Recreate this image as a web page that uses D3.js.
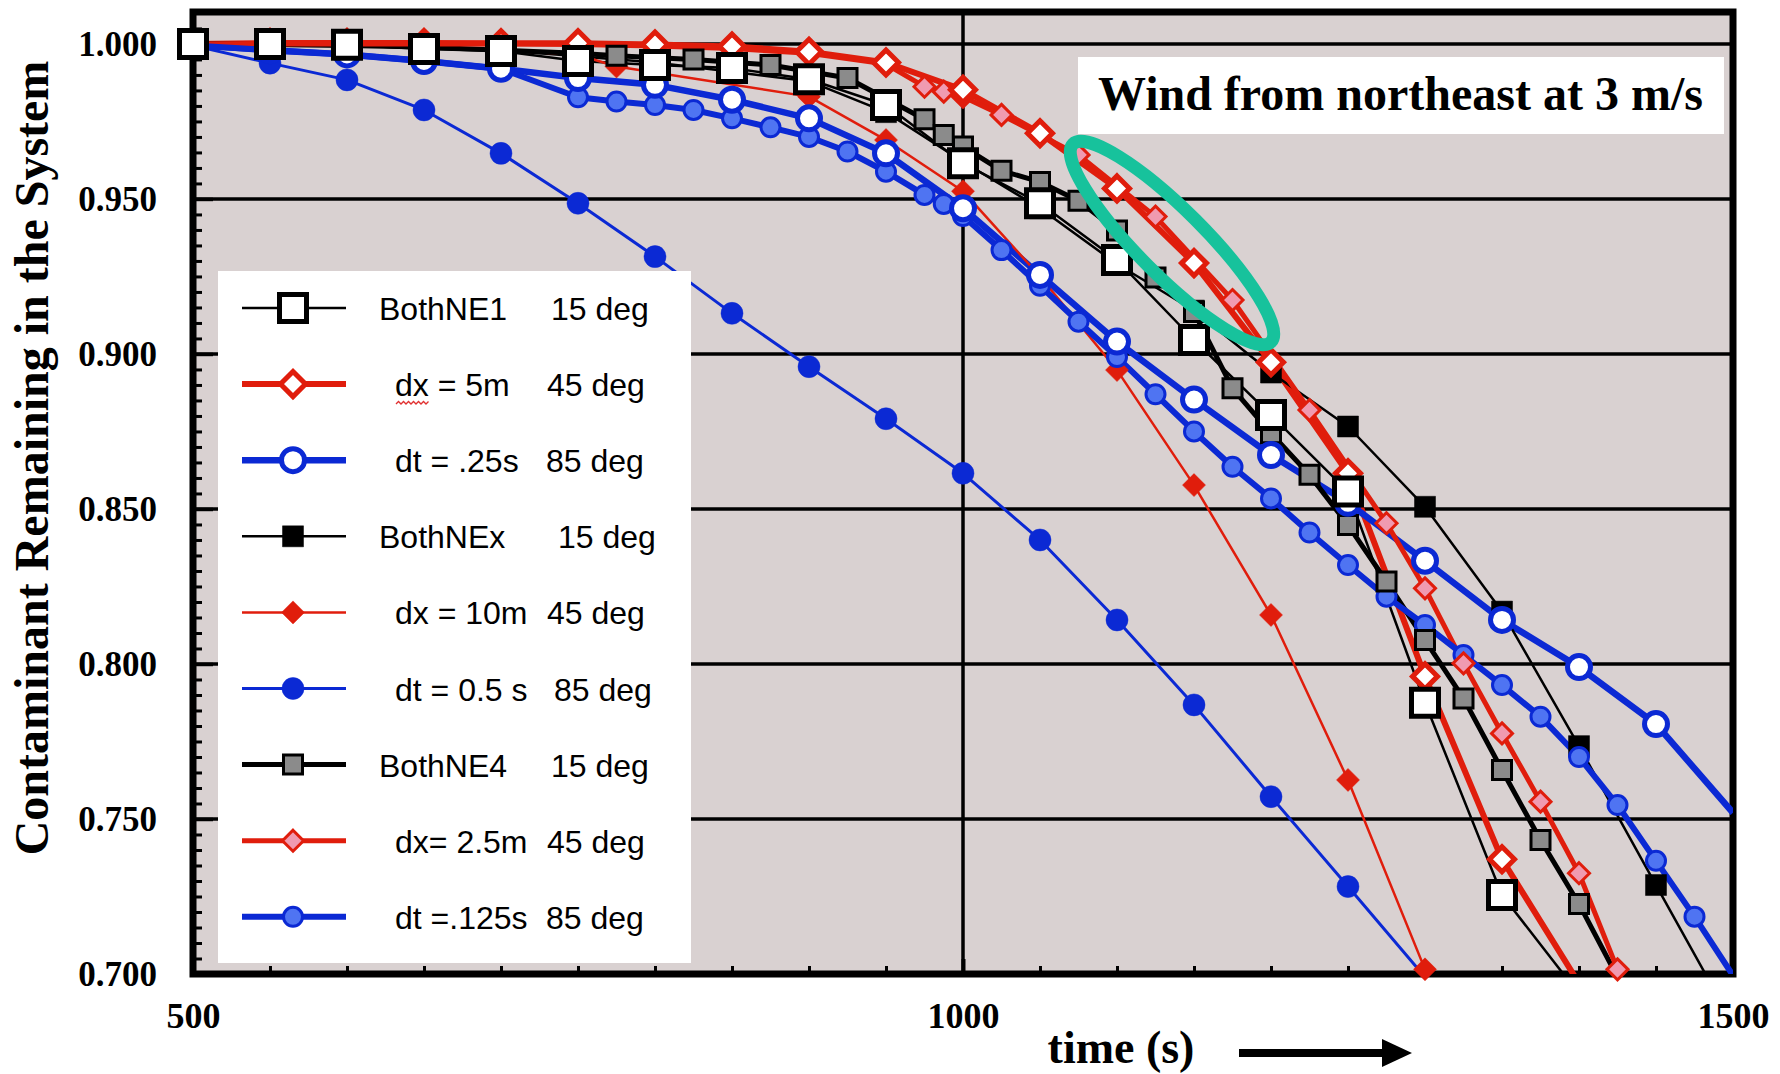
<!DOCTYPE html>
<html>
<head>
<meta charset="utf-8">
<script src="https://cdnjs.cloudflare.com/ajax/libs/d3/7.8.5/d3.min.js"></script>
<style>
  html, body { margin: 0; padding: 0; background: #fff; }
  svg { display: block; }
</style>
</head>
<body>
<svg id="chart" width="1780" height="1074"></svg>
<script>
// ---- data: [time (s), fraction remaining] ----
const bothNE1 = [[500,1.000],[550,1.000],[600,0.9997],[650,0.9984],[700,0.9977],[750,0.9945],[800,0.9932],[850,0.9922],[900,0.9886],[950,0.9803],[1000,0.9615],[1050,0.9486],[1100,0.9303],[1150,0.9045],[1200,0.8803],[1250,0.8556],[1300,0.7875],[1350,0.7255],[1400,0.6935]];
const dx5m = [[500,1.000],[550,1.0003],[600,1.0003],[650,1.0003],[700,1.0002],[750,1.0002],[800,0.9998],[850,0.9992],[900,0.9975],[950,0.994],[1000,0.9852],[1050,0.9712],[1100,0.9534],[1150,0.9293],[1200,0.8973],[1250,0.8615],[1300,0.796],[1350,0.737],[1400,0.697]];
const dt025 = [[500,0.9997],[550,0.998],[600,0.9966],[650,0.9945],[700,0.992],[750,0.989],[800,0.9868],[850,0.982],[900,0.976],[950,0.9647],[1000,0.947],[1050,0.9255],[1100,0.904],[1150,0.8853],[1200,0.8674],[1250,0.852],[1300,0.8333],[1350,0.8142],[1400,0.799],[1450,0.7806],[1500,0.752]];
const bothNEx = [[500,1.000],[550,1.000],[600,0.9995],[650,0.999],[700,0.998],[750,0.996],[800,0.994],[850,0.991],[900,0.988],[950,0.978],[1000,0.962],[1050,0.947],[1100,0.929],[1150,0.914],[1200,0.894],[1250,0.8766],[1300,0.8507],[1350,0.8169],[1400,0.7735],[1450,0.7287],[1500,0.684]];
const dx10m = [[500,1.000],[550,1.000],[600,0.9995],[650,0.999],[700,0.998],[750,0.9965],[775,0.9927],[900,0.983],[950,0.969],[1000,0.9525],[1050,0.925],[1100,0.8948],[1150,0.8577],[1200,0.8158],[1250,0.7626],[1300,0.7015]];
const dt05 = [[500,0.9995],[550,0.9938],[600,0.9884],[650,0.9787],[700,0.9647],[750,0.9486],[800,0.9314],[850,0.9131],[900,0.8959],[950,0.8791],[1000,0.8615],[1050,0.840],[1100,0.8142],[1150,0.7868],[1200,0.7572],[1250,0.7282],[1300,0.699]];
const bothNE4 = [[500,1.000],[550,0.9998],[600,0.9995],[650,0.999],[700,0.998],[750,0.997],[775,0.9962],[825,0.995],[875,0.9932],[925,0.989],[975,0.9757],[987.5,0.9706],[1000,0.9669],[1025,0.9591],[1050,0.9555],[1075,0.9494],[1100,0.9398],[1125,0.9247],[1150,0.9135],[1175,0.8889],[1200,0.8744],[1225,0.861],[1250,0.8448],[1275,0.8266],[1300,0.8077],[1325,0.7889],[1350,0.7658],[1375,0.7432],[1400,0.7226],[1425,0.699]];
const dx25m = [[500,1.000],[550,1.000],[600,1.000],[650,1.000],[700,1.000],[750,0.9998],[800,0.9993],[850,0.9985],[900,0.997],[950,0.9935],[975,0.9862],[987.5,0.9846],[1000,0.983],[1025,0.9771],[1075,0.9642],[1125,0.9443],[1175,0.9174],[1225,0.8819],[1275,0.8454],[1300,0.8244],[1325,0.8002],[1350,0.7776],[1375,0.7556],[1400,0.7325],[1425,0.7015]];
const dt0125 = [[500,0.9995],[550,0.998],[600,0.9966],[650,0.9945],[700,0.992],[750,0.9828],[775,0.9814],[800,0.9803],[825,0.9787],[850,0.976],[875,0.9731],[900,0.970],[925,0.9653],[950,0.9588],[975,0.9513],[987.5,0.9484],[1000,0.9445],[1025,0.9335],[1050,0.922],[1075,0.9104],[1100,0.899],[1125,0.887],[1150,0.875],[1175,0.8636],[1200,0.8534],[1225,0.8424],[1250,0.8319],[1275,0.8217],[1300,0.8126],[1325,0.8029],[1350,0.7932],[1375,0.783],[1400,0.770],[1425,0.7545],[1450,0.7365],[1475,0.7185],[1500,0.6995]];

const legendNames  = ['BothNE1', 'dx = 5m', 'dt = .25s', 'BothNEx', 'dx = 10m', 'dt = 0.5 s', 'BothNE4', 'dx= 2.5m', 'dt =.125s'];
const legendAngles = ['15 deg', '45 deg', '85 deg', '15 deg', '45 deg', '85 deg', '15 deg', '45 deg', '85 deg'];
const yTicks = [0.700, 0.750, 0.800, 0.850, 0.900, 0.950, 1.000];
const xTicks = [500, 1000, 1500];
const titleText = 'Wind from northeast at 3 m/s';
const yLabel = 'Contaminant Remaining in the System';
const xLabel = 'time (s)';

// ---- styles ----
const RED = '#e01d0c', BLUE = '#0b29d4', LBLUE = '#4f74f2', GRAY = '#8b8b8b', PINK = '#f09ab0';
const series = [
  { data: bothNE1, lc: '#000', lw: 2.5, shape: 'square',  size: 27, fill: '#fff', stroke: '#000', sw: 5 },
  { data: dx5m,    lc: RED,    lw: 6,   shape: 'diamond', size: 25, fill: '#fff', stroke: RED,    sw: 5 },
  { data: dt025,   lc: BLUE,   lw: 6.5, shape: 'circle',  size: 23, fill: '#fff', stroke: BLUE,   sw: 5 },
  { data: bothNEx, lc: '#000', lw: 2.5, shape: 'square',  size: 21, fill: '#000', stroke: '#000', sw: 0.5 },
  { data: dx10m,   lc: RED,    lw: 2.5, shape: 'diamond', size: 23, fill: RED,    stroke: RED,    sw: 0.5 },
  { data: dt05,    lc: BLUE,   lw: 3,   shape: 'circle',  size: 22, fill: BLUE,   stroke: BLUE,   sw: 0.5 },
  { data: bothNE4, lc: '#000', lw: 5,   shape: 'square',  size: 19, fill: GRAY,   stroke: '#000', sw: 3 },
  { data: dx25m,   lc: RED,    lw: 5,   shape: 'diamond', size: 21, fill: PINK,   stroke: RED,    sw: 3 },
  { data: dt0125,  lc: BLUE,   lw: 6,   shape: 'circle',  size: 19, fill: LBLUE,  stroke: BLUE,   sw: 3 }
];
// marker stacking order (bottom -> top)
const markerOrder = [5, 4, 3, 8, 7, 6, 2, 1, 0];

const serif = '"Liberation Serif", "Times New Roman", serif';
const sans = '"Liberation Sans", Arial, Helvetica, sans-serif';

const svg = d3.select('#chart');
const x = d3.scaleLinear().domain([500, 1500]).range([193, 1733]);
const y = d3.scaleLinear().domain([0.700, 1.0103]).range([974, 12]);
const [x0, x1] = x.range();
const [yb, yt] = y.range();

function markerPath(shape, cx, cy, size) {
  const s = size / 2;
  if (shape === 'square') return `M${cx - s},${cy - s}h${size}v${size}h${-size}Z`;
  if (shape === 'diamond') return `M${cx},${cy - s}L${cx + s},${cy}L${cx},${cy + s}L${cx - s},${cy}Z`;
  return `M${cx - s},${cy}a${s},${s} 0 1,0 ${size},0a${s},${s} 0 1,0 ${-size},0Z`;
}

// background
svg.append('rect').attr('x', x0).attr('y', yt).attr('width', x1 - x0).attr('height', yb - yt).attr('fill', '#d9d1d1');

svg.append('defs').append('clipPath').attr('id', 'plotClip')
  .append('rect').attr('x', x0).attr('y', yt).attr('width', x1 - x0).attr('height', yb - yt);

// grid
const grid = svg.append('g').attr('stroke', '#000').attr('stroke-width', 3.5);
grid.selectAll('.hg').data(yTicks.slice(1)).enter().append('line')
  .attr('x1', x0).attr('x2', x1).attr('y1', d => y(d)).attr('y2', d => y(d));
grid.append('line').attr('x1', x(1000)).attr('x2', x(1000)).attr('y1', yt).attr('y2', yb);

// axes with inward ticks
const yMinor = d3.range(140, 203).map(d => d / 200);
svg.append('g').attr('transform', `translate(${x0},0)`)
  .call(d3.axisLeft(y).tickValues(yMinor).tickSize(-9).tickFormat(''))
  .call(g => g.select('.domain').remove())
  .call(g => g.selectAll('line').attr('stroke-width', 3));
svg.append('g').attr('transform', `translate(${x0},0)`)
  .call(d3.axisLeft(y).tickValues(yTicks).tickSize(-20).tickPadding(36).tickFormat(d3.format('.3f')))
  .call(g => g.select('.domain').remove())
  .call(g => g.selectAll('line').attr('stroke-width', 3.5))
  .call(g => g.selectAll('text').attr('font-family', serif).attr('font-weight', 'bold').attr('font-size', 35).attr('fill', '#000'));

const xMinor = d3.range(500, 1501, 50);
svg.append('g').attr('transform', `translate(0,${yb})`)
  .call(d3.axisBottom(x).tickValues(xMinor).tickSize(-8).tickFormat(''))
  .call(g => g.select('.domain').remove())
  .call(g => g.selectAll('line').attr('stroke-width', 3));
svg.append('g').attr('transform', `translate(0,${yb})`)
  .call(d3.axisBottom(x).tickValues(xTicks).tickSize(-15).tickPadding(28).tickFormat(d3.format('d')))
  .call(g => g.select('.domain').remove())
  .call(g => g.selectAll('line').attr('stroke-width', 4))
  .call(g => g.selectAll('text').attr('font-family', serif).attr('font-weight', 'bold').attr('font-size', 36).attr('fill', '#000'));

// frame
svg.append('rect').attr('x', x0).attr('y', yt).attr('width', x1 - x0).attr('height', yb - yt)
  .attr('fill', 'none').attr('stroke', '#000').attr('stroke-width', 7);

// lines
const line = d3.line().x(d => x(d[0])).y(d => y(d[1]));
const lines = svg.append('g').attr('clip-path', 'url(#plotClip)');
series.forEach(s => {
  lines.append('path').datum(s.data).attr('d', line)
    .attr('fill', 'none').attr('stroke', s.lc).attr('stroke-width', s.lw).attr('stroke-linejoin', 'round');
});

// markers
const marks = svg.append('g');
markerOrder.forEach(i => {
  const s = series[i];
  marks.append('g').selectAll('path')
    .data(s.data.filter(d => d[0] < 1500 && d[1] >= 0.7))
    .enter().append('path')
    .attr('d', d => markerPath(s.shape, x(d[0]), y(d[1]), s.size))
    .attr('fill', s.fill).attr('stroke', s.stroke).attr('stroke-width', s.sw);
});

// legend
const lg = svg.append('g');
lg.append('rect').attr('x', 218).attr('y', 271).attr('width', 473).attr('height', 692).attr('fill', '#fff');
const nameX = [379, 395, 395, 379, 395, 395, 379, 395, 395];
const angX = [551, 547, 546, 558, 547, 554, 551, 547, 546];
series.forEach((s, i) => {
  const ry = 308 + i * 76.1;
  lg.append('line').attr('x1', 242).attr('x2', 346).attr('y1', ry).attr('y2', ry)
    .attr('stroke', s.lc).attr('stroke-width', s.lw);
  lg.append('path').attr('d', markerPath(s.shape, 293, ry, s.size))
    .attr('fill', s.fill).attr('stroke', s.stroke).attr('stroke-width', s.sw);
  lg.append('text').attr('x', nameX[i]).attr('y', ry + 12).text(legendNames[i])
    .attr('font-family', sans).attr('font-size', 32).attr('fill', '#000');
  lg.append('text').attr('x', angX[i]).attr('y', ry + 12).text(legendAngles[i])
    .attr('font-family', sans).attr('font-size', 32).attr('fill', '#000');
});
// spell-check squiggle under "dx" in the second row
lg.append('path').attr('d', 'M396,404l2.5,-2.5l2.5,2.5l2.5,-2.5l2.5,2.5l2.5,-2.5l2.5,2.5l2.5,-2.5l2.5,2.5l2.5,-2.5l2.5,2.5l2.5,-2.5l2.5,2.5l2.5,-2.5')
  .attr('fill', 'none').attr('stroke', '#e03030').attr('stroke-width', 1.3);

// title box
svg.append('rect').attr('x', 1078).attr('y', 57).attr('width', 646).attr('height', 77).attr('fill', '#fff');
svg.append('text').attr('x', 1098).attr('y', 110).text(titleText)
  .attr('font-family', serif).attr('font-weight', 'bold').attr('font-size', 48).attr('fill', '#000');

// highlight ellipse
svg.append('ellipse').attr('cx', 1172).attr('cy', 243).attr('rx', 140).attr('ry', 33)
  .attr('transform', 'rotate(45 1172 243)')
  .attr('fill', 'none').attr('stroke', '#17c29c').attr('stroke-width', 13);

// axis titles
svg.append('text').attr('transform', 'translate(48,458) rotate(-90)').attr('text-anchor', 'middle')
  .text(yLabel).attr('font-family', serif).attr('font-weight', 'bold').attr('font-size', 48).attr('fill', '#000');
svg.append('text').attr('x', 1121).attr('y', 1063).attr('text-anchor', 'middle')
  .text(xLabel).attr('font-family', serif).attr('font-weight', 'bold').attr('font-size', 46).attr('fill', '#000');

// arrow
svg.append('line').attr('x1', 1239).attr('x2', 1388).attr('y1', 1053).attr('y2', 1053)
  .attr('stroke', '#000').attr('stroke-width', 8);
svg.append('path').attr('d', 'M1382,1039L1412,1053L1382,1067Z').attr('fill', '#000');
</script>
</body>
</html>
